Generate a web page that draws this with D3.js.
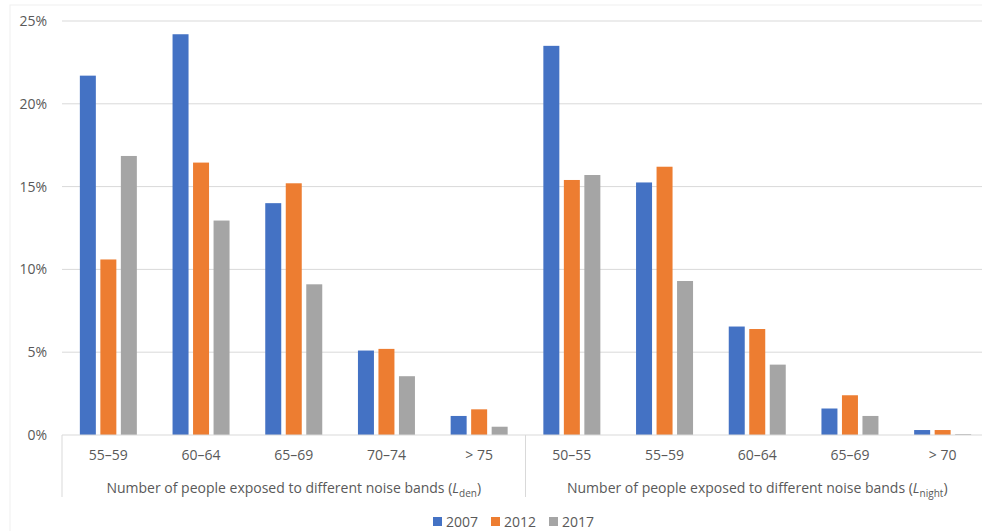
<!DOCTYPE html>
<html><head><meta charset="utf-8">
<script src="https://cdn.jsdelivr.net/npm/d3@7"></script>
<style>
body{margin:0;background:#fff;}
text{font-family:"Open Sans","Liberation Sans",sans-serif;fill:#595959;}
</style></head>
<body><svg id="c" width="982" height="531"></svg>
<script>
const categories = ["55–59","60–64","65–69","70–74","> 75","50–55","55–59","60–64","65–69","> 70"];
const groupTitles = [["Number of people exposed to different noise bands (","L","den",")"],
                     ["Number of people exposed to different noise bands (","L","night",")"]];
const years = ["2007","2012","2017"];
const v2007 = [21.7,24.2,14.0,5.1,1.15,23.5,15.25,6.55,1.6,0.3];
const v2012 = [10.6,16.45,15.2,5.2,1.55,15.4,16.2,6.4,2.4,0.3];
const v2017 = [16.85,12.95,9.1,3.55,0.5,15.7,9.3,4.25,1.15,0.05];
const yTicks = [0,5,10,15,20,25];
const colors = ["#4472C4","#ED7D31","#A5A5A5"];

const values = [v2007,v2012,v2017];
const svg = d3.select("#c");
svg.append("rect").attr("x",10).attr("y",5).attr("width",1000).attr("height",600)
  .attr("fill","#fff").attr("stroke","#efefef");

const pLeft=62, pRight=989, pTop=21, base=435;
const x0 = d3.scaleBand().domain(d3.range(categories.length)).range([pLeft,pRight]);
const bw = x0.bandwidth();
const x1 = d3.scaleBand().domain(years).range([bw/2-28.5,bw/2+28.5]).paddingInner(0.22);
const y = d3.scaleLinear().domain([0,25]).range([base,pTop]);

// gridlines
svg.append("g").selectAll("line").data(yTicks.filter(t=>t>0)).join("line")
  .attr("x1",pLeft).attr("x2",982).attr("y1",d=>y(d)).attr("y2",d=>y(d))
  .attr("stroke","#d9d9d9").attr("stroke-width",1);

// y axis labels
const ya = svg.append("g").attr("transform",`translate(${pLeft},0)`)
  .call(d3.axisLeft(y).tickValues(yTicks).tickFormat(d=>d+"%").tickSize(0).tickPadding(15));
ya.select(".domain").remove();
ya.selectAll("text").attr("font-size",14).attr("fill","#595959")
  .style("font-family",'"Open Sans","Liberation Sans",sans-serif');

// bars
years.forEach((yr,si)=>{
  svg.append("g").selectAll("rect").data(values[si]).join("rect")
    .attr("x",(d,i)=>x0(i)+x1(yr)).attr("width",x1.bandwidth())
    .attr("y",d=>y(d)).attr("height",d=>base-y(d))
    .attr("fill",colors[si]);
});

// category axis
const xa = svg.append("g").attr("transform",`translate(0,${base})`)
  .call(d3.axisBottom(x0).tickFormat(i=>categories[i]).tickSize(0).tickPadding(15));
xa.select(".domain").remove();
xa.selectAll("text").attr("font-size",14).attr("fill","#595959")
  .style("font-family",'"Open Sans","Liberation Sans",sans-serif');
svg.append("line").attr("x1",pLeft).attr("x2",982).attr("y1",base).attr("y2",base)
  .attr("stroke","#d9d9d9");

// group separators
[0,5,10].forEach(i=>{
  const xx = i<10 ? x0(i) : pRight;
  svg.append("line").attr("x1",xx).attr("x2",xx).attr("y1",base).attr("y2",497)
    .attr("stroke","#d9d9d9");
});

// group titles
groupTitles.forEach((g,gi)=>{
  const cx = (x0(gi*5)+ (gi*5+5<10 ? x0(gi*5+5) : pRight))/2;
  const t = svg.append("text").attr("x",cx).attr("y",493).attr("text-anchor","middle").attr("font-size",14);
  t.append("tspan").text(g[0]);
  t.append("tspan").attr("font-style","italic").text(g[1]);
  t.append("tspan").attr("font-size",10).attr("dy",4).text(g[2]);
  t.append("tspan").attr("dy",-4).text(g[3]);
});

// legend
const lx = [433,491,549];
years.forEach((yr,i)=>{
  svg.append("rect").attr("x",lx[i]).attr("y",517).attr("width",9).attr("height",9).attr("fill",colors[i]);
  svg.append("text").attr("x",lx[i]+13).attr("y",526.5).attr("font-size",14).text(yr);
});
</script></body></html>
